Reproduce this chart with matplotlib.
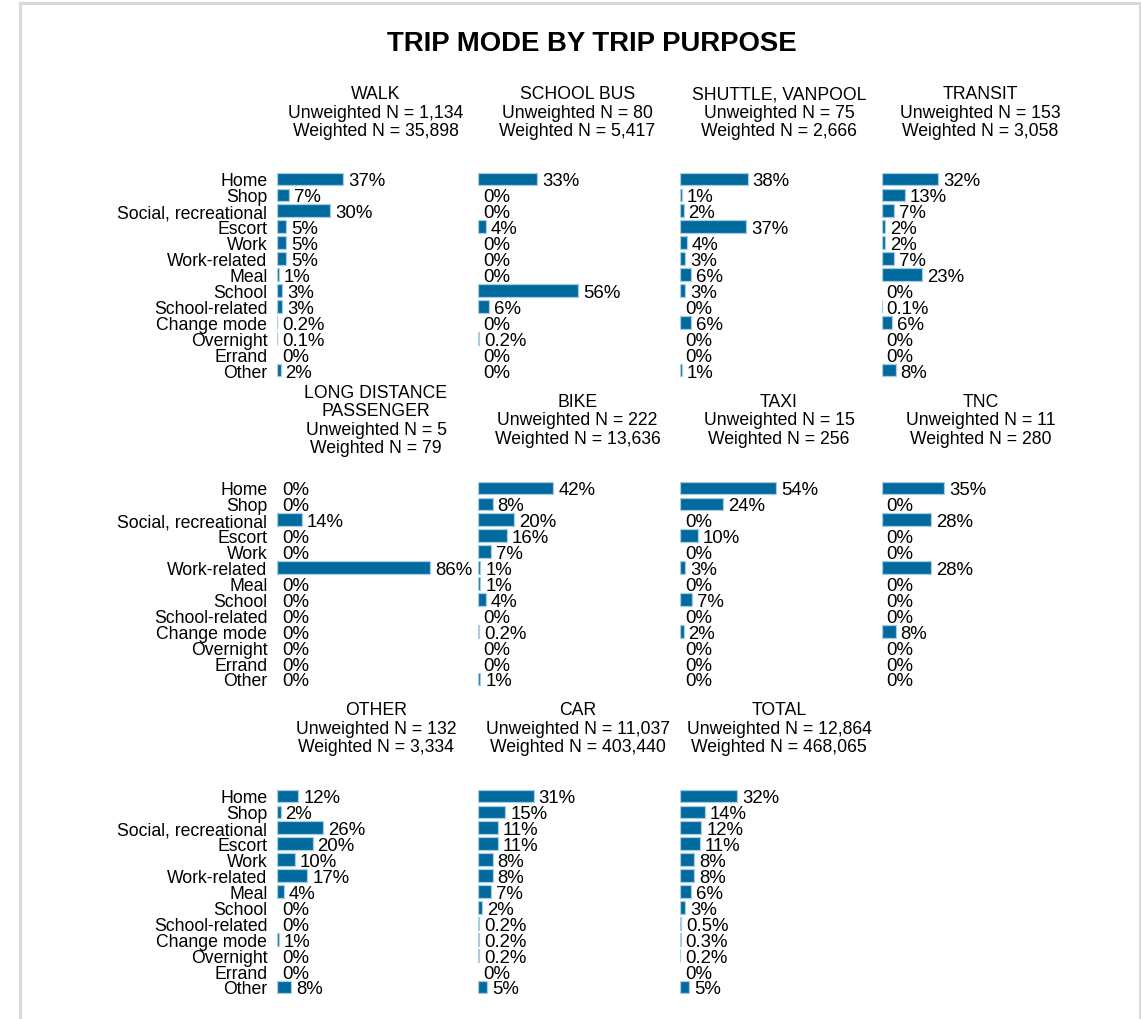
import matplotlib
matplotlib.use("Agg")
import matplotlib.pyplot as plt
from matplotlib.lines import Line2D
import numpy as np

plt.rcParams['font.family'] = ['Liberation Sans', 'DejaVu Sans']

# trip purposes (rows of every panel)
purposes = ["Home", "Shop", "Social, recreational", "Escort", "Work", "Work-related",
            "Meal", "School", "School-related", "Change mode", "Overnight", "Errand", "Other"]

modes = ["WALK", "SCHOOL BUS", "SHUTTLE, VANPOOL", "TRANSIT",
         "LONG DISTANCE\nPASSENGER", "BIKE", "TAXI", "TNC",
         "OTHER", "CAR", "TOTAL"]
unweighted_n = ["1,134", "80", "75", "153", "5", "222", "15", "11", "132", "11,037", "12,864"]
weighted_n = ["35,898", "5,417", "2,666", "3,058", "79", "13,636", "256", "280", "3,334", "403,440", "468,065"]

# percent of trips by purpose, one list per mode
walk = [37, 7, 30, 5, 5, 5, 1, 3, 3, 0.2, 0.1, 0, 2]
school_bus = [33, 0, 0, 4, 0, 0, 0, 56, 6, 0, 0.2, 0, 0]
shuttle = [38, 1, 2, 37, 4, 3, 6, 3, 0, 6, 0, 0, 1]
transit = [32, 13, 7, 2, 2, 7, 23, 0, 0.1, 6, 0, 0, 8]
long_dist = [0, 0, 14, 0, 0, 86, 0, 0, 0, 0, 0, 0, 0]
bike = [42, 8, 20, 16, 7, 1, 1, 4, 0, 0.2, 0, 0, 1]
taxi = [54, 24, 0, 10, 0, 3, 0, 7, 0, 2, 0, 0, 0]
tnc = [35, 0, 28, 0, 0, 28, 0, 0, 0, 8, 0, 0, 0]
other = [12, 2, 26, 20, 10, 17, 4, 0, 0, 1, 0, 0, 8]
car = [31, 15, 11, 11, 8, 8, 7, 2, 0.2, 0.2, 0.2, 0, 5]
total = [32, 14, 12, 11, 8, 8, 6, 3, 0.5, 0.3, 0.2, 0, 5]

all_values = [walk, school_bus, shuttle, transit, long_dist, bike, taxi, tnc, other, car, total]

W, H = 1141, 1020
fig = plt.figure(figsize=(W / 100, H / 100), dpi=100)

BLUE = "#00699E"
FS = 12.7

def fx(px):
    return px / W

def fy(py):
    return 1 - py / H

# page frame
fig.add_artist(Line2D([fx(20), fx(20)], [fy(4), 0], color="#d9d9d9", lw=2.2, transform=fig.transFigure))
fig.add_artist(Line2D([fx(20), fx(1140)], [fy(4), fy(4)], color="#d9d9d9", lw=2.2, transform=fig.transFigure))
fig.add_artist(Line2D([fx(1140), fx(1140)], [fy(4), 0], color="#d9d9d9", lw=2.2, transform=fig.transFigure))

fig.text(fx(592), fy(44), "TRIP MODE BY TRIP PURPOSE", ha="center", va="center",
         fontsize=19.8, fontweight="bold")

col_left = [277, 478.5, 680, 881.5]
panel_w = 198
row_top = [172, 481, 789]
header_y = [113, 421, 729]
step = 15.92
panel_h = step * len(purposes)
xmax = panel_w / 1.78

y = np.arange(len(purposes))

for i, vals in enumerate(all_values):
    r, c = divmod(i, 4)
    left, top = col_left[c], row_top[r]
    ax = fig.add_axes([fx(left), fy(top + panel_h), panel_w / W, panel_h / H])
    vals = np.array(vals, dtype=float)
    lws = [0.9 if v > 0 else 0 for v in vals]
    ax.barh(y, vals, height=0.8, color=BLUE, edgecolor="#a9cde0", linewidth=lws)
    for yy, v in zip(y, vals):
        lab = f"{v:.1f}%" if 0 < v < 1 else f"{v:.0f}%"
        ax.annotate(lab, (v, yy), xytext=(5, 0), textcoords="offset pixels",
                    ha="left", va="center_baseline", fontsize=13.4)
    ax.set_xlim(0, xmax)
    ax.set_ylim(len(purposes) - 0.5, -0.5)
    ax.set_xticks([])
    for s in ax.spines.values():
        s.set_visible(False)
    if c == 0:
        ax.set_yticks(y)
        ax.set_yticklabels(purposes, fontsize=FS)
        ax.tick_params(axis="y", length=0, pad=7)
    else:
        ax.set_yticks([])
    ax.patch.set_visible(False)

    head = f"{modes[i]}\nUnweighted N = {unweighted_n[i]}\nWeighted N = {weighted_n[i]}"
    fig.text(fx(left + panel_w / 2), fy(header_y[r]), head, ha="center", va="center",
             fontsize=FS, linespacing=1.1)

fig.savefig("out.png", dpi=100)
